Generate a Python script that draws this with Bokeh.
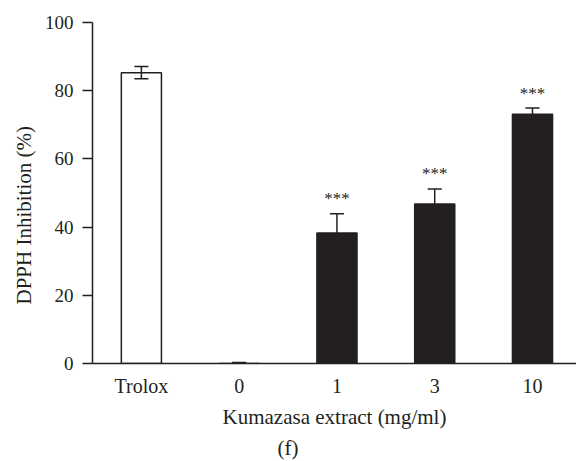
import numpy as np
from bokeh.plotting import figure
from bokeh.models import Range1d, FixedTicker, Title, ColumnDataSource
from bokeh.core.properties import value
from bokeh.embed import file_html
from bokeh.resources import INLINE

categories = ["Trolox", "0", "1", "3", "10"]
means = [85.3, 0.0, 38.3, 46.8, 73.1]
errors = [1.8, 0.3, 5.6, 4.4, 1.8]
fills = ["white", "#231f20", "#231f20", "#231f20", "#231f20"]
stars = ["", "", "***", "***", "***"]

INK = "#231f20"
FONT = "Liberation Serif"

xs = list(range(len(categories)))
upper = [m + e for m, e in zip(means, errors)]
lower = [m - e for m, e in zip(means, errors)]

p = figure(width=576, height=461, output_backend="svg", toolbar_location=None,
           x_range=Range1d(-0.5, 4.45), y_range=Range1d(0, 100),
           min_border_left=92, min_border_right=0, min_border_top=22, min_border_bottom=97)
p.outline_line_color = None
p.grid.visible = False
p.background_fill_color = "white"

src = ColumnDataSource(dict(x=xs, top=means, fill=fills, up=upper, lo=lower,
                            cl=[x - 0.072 for x in xs], cr=[x + 0.072 for x in xs],
                            stars=stars))

p.vbar(x="x", top="top", bottom=0, width=0.41, fill_color="fill", line_color=INK,
       line_width=1.5, source=src)
p.segment(x0="x", y0="lo", x1="x", y1="up", line_color=INK, line_width=1.5, source=src)
p.segment(x0="cl", y0="up", x1="cr", y1="up", line_color=INK, line_width=1.5, source=src)
p.segment(x0="cl", y0="lo", x1="cr", y1="lo", line_color=INK, line_width=1.5, source=src)
p.text(x="x", y="up", text="stars", source=src, y_offset=-15, text_align="center",
       text_baseline="middle", text_font=value(FONT), text_font_size="17px", text_color=INK)

# axes
p.xaxis.ticker = FixedTicker(ticks=xs)
p.xaxis.major_label_overrides = {i: c for i, c in enumerate(categories)}
p.xaxis.major_tick_line_color = None
p.xaxis.minor_tick_line_color = None
p.xaxis.axis_line_color = INK
p.xaxis.axis_line_width = 1.5
p.xaxis.major_label_standoff = 5
p.xaxis.axis_label = "Kumazasa extract (mg/ml)"
p.xaxis.axis_label_standoff = 5

p.yaxis.ticker = FixedTicker(ticks=[0, 20, 40, 60, 80, 100])
p.yaxis.major_tick_out = 10
p.yaxis.major_tick_in = 0
p.yaxis.minor_tick_line_color = None
p.yaxis.axis_line_color = INK
p.yaxis.axis_line_width = 1.5
p.yaxis.major_tick_line_color = INK
p.yaxis.major_tick_line_width = 1.5
p.yaxis.major_label_standoff = 9

for ax in (p.xaxis[0], p.yaxis[0]):
    ax.major_label_text_font = FONT
    ax.major_label_text_color = INK
    ax.axis_label_text_font = FONT
    ax.axis_label_text_font_size = "21px"
    ax.axis_label_text_font_style = "normal"
    ax.axis_label_text_color = INK
p.xaxis.major_label_text_font_size = "20px"
p.yaxis.major_label_text_font_size = "19px"

p.add_layout(Title(text="DPPH Inhibition (%)", align="left", offset=59,
                   text_font=FONT, text_font_size="21px", text_font_style="normal",
                   text_color=INK, standoff=11), "left")
p.add_layout(Title(text="(f)", align="left", offset=185, vertical_align="bottom",
                   text_font=FONT, text_font_size="21px", text_font_style="normal",
                   text_color=INK, standoff=4), "below")

open("out.html", "w").write(file_html(p, INLINE))
